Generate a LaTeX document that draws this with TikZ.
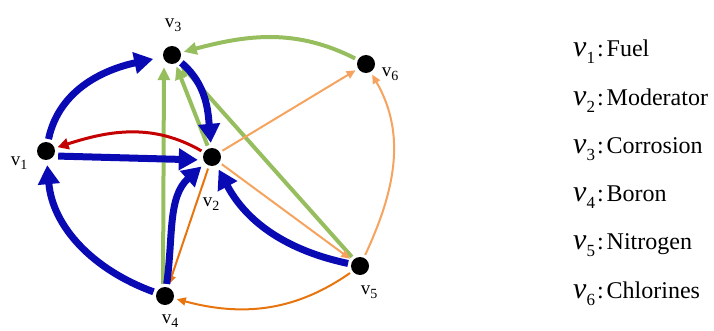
\documentclass[tikz,border=0pt]{standalone}
\usepackage{fontspec}
\setmainfont{Liberation Serif}
\usetikzlibrary{arrows.meta,positioning}
\definecolor{navy}{HTML}{0A0AB4}
\definecolor{leaf}{HTML}{96BE5E}
\definecolor{peach}{HTML}{F5A35E}
\definecolor{rust}{HTML}{E8740E}
\definecolor{crimson}{HTML}{C40000}

\newcommand{\vlab}[1]{{\fontsize{19}{19}\selectfont v}\raisebox{-4pt}{\fontsize{14}{14}\selectfont #1}}
\newcommand{\legrow}[2]{{\fontsize{30}{30}\selectfont\itshape v}\raisebox{-7pt}{\fontsize{17}{17}\selectfont #1}\kern2pt{\fontsize{24}{24}\selectfont:\kern3pt#2}}

\begin{document}
\begin{tikzpicture}[x=1pt,y=1pt,
    vertex/.style={circle,fill=black,minimum size=18pt,inner sep=0pt},
    lbl/.style={inner sep=0pt},
    heavy/.style={navy,line width=7pt,-{Triangle[length=19pt,width=21pt]},shorten >=5pt,shorten <=3pt},
    redarc/.style={crimson,line width=3pt,-{Triangle[length=11pt,width=11pt]},shorten >=3pt,shorten <=3pt},
    leafarc/.style={leaf,line width=4pt,-{Triangle[length=13pt,width=12pt]},shorten >=3pt,shorten <=3pt},
    thin/.style={line width=2pt,-{Triangle[length=9pt,width=8pt]},shorten >=3pt,shorten <=3pt}]
  \useasboundingbox (0,0) rectangle (714,330);
  % vertices
  \node[vertex] (v1) at (46,179) {};
  \node[vertex] (v2) at (212,173) {};
  \node[vertex] (v3) at (172,275) {};
  \node[vertex] (v4) at (165,34) {};
  \node[vertex] (v5) at (360,64) {};
  \node[vertex] (v6) at (366,266) {};
  \node[lbl] (l1) at (19,167) {\vlab{1}};
  \node[lbl] (l2) at (211,126) {\vlab{2}};
  \node[lbl] (l3) at (173,305) {\vlab{3}};
  \node[lbl] (l4) at (170,9) {\vlab{4}};
  \node[lbl] (l5) at (369,38) {\vlab{5}};
  \node[lbl] (l6) at (390,256) {\vlab{6}};
  % green edges
  \draw[leafarc] ([xshift=-2pt]v4.north) -- ([xshift=-8pt]v3.south);
  \draw[leafarc] (v2) -- (v3);
  \draw[leafarc] (v5) -- (v3);
  \draw[leafarc] (v6) to[out=153,in=15] (v3);
  % orange edges
  \draw[thin,peach] (v2) -- (v6);
  \draw[thin,peach] (v2) -- (v5);
  \draw[thin,peach] (v5) to[out=65,in=-60] (v6);
  \draw[thin,rust] (v2) -- (v4);
  \draw[thin,rust] (v5) to[out=215,in=-15] (v4);
  % red edge
  \draw[redarc] (v2) to[out=150,in=18] (v1);
  % blue edges
  \draw[heavy,shorten >=10pt] (v1) to[out=78,in=192] (v3);
  \draw[heavy] ([yshift=-5pt]v1.east) -- ([yshift=-3pt]v2.west);
  \draw[heavy] (v3) to[out=-40,in=95] (v2);
  \draw[heavy] (v4) to[out=160,in=-85] (v1);
  \draw[heavy] (v4) to[out=82,in=222] (v2);
  \draw[heavy] (v5) to[out=168,in=-62] (v2);
  % legend
  \foreach \i/\name [count=\k from 0] in {1/Fuel,2/Moderator,3/Corrosion,4/Boron,5/Nitrogen,6/Chlorines}
    \node[lbl,anchor=base west] (leg\i) at (573,273-48.2*\k) {\legrow{\i}{\name}};
\end{tikzpicture}
\end{document}
